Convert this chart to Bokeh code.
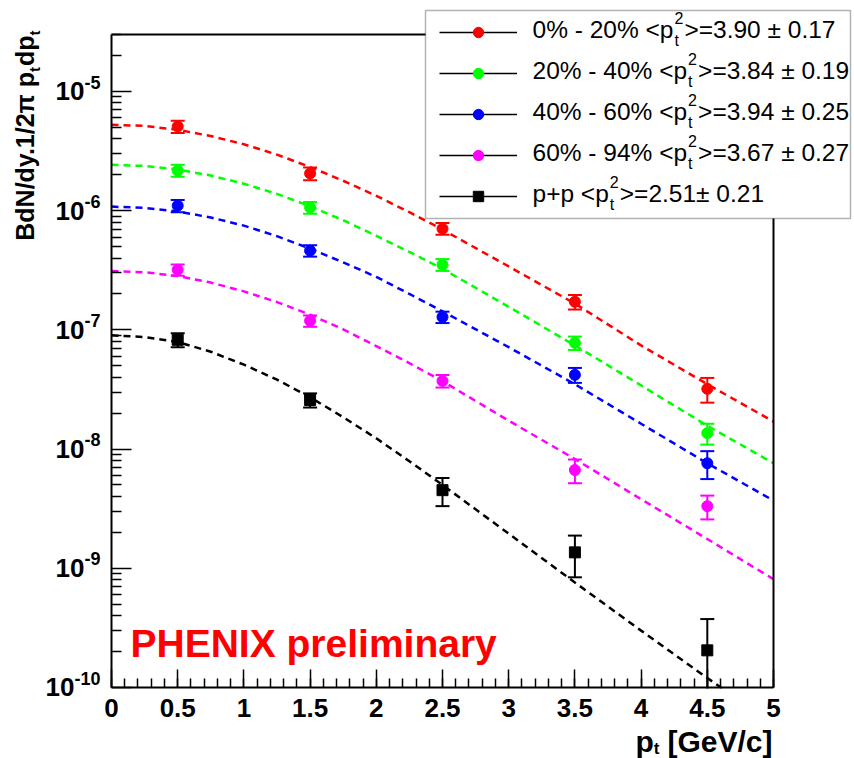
import math
from bokeh.plotting import figure
from bokeh.models import (FixedTicker, CustomJSTickFormatter, Label, BoxAnnotation,
                          Legend, LegendItem, LinearAxis, LogAxis)
from bokeh.embed import file_html
from bokeh.resources import INLINE

# ---------------- data ----------------
pt = [0.5, 1.5, 2.5, 3.5, 4.5]

yield_0_20 = [5.08e-6, 2.05e-6, 7.06e-7, 1.72e-7, 3.2e-8]
err_0_20 = [0.6e-6, 0.25e-6, 0.8e-7, 0.24e-7, 0.75e-8]
yield_20_40 = [2.17e-6, 1.06e-6, 3.52e-7, 7.78e-8, 1.36e-8]
err_20_40 = [0.25e-6, 0.12e-6, 0.4e-7, 1.0e-8, 0.27e-8]
yield_40_60 = [1.10e-6, 4.61e-7, 1.28e-7, 4.19e-8, 7.6e-9]
err_40_60 = [0.13e-6, 0.5e-7, 0.14e-7, 0.6e-8, 2.0e-9]
yield_60_94 = [3.19e-7, 1.19e-7, 3.73e-8, 6.67e-9, 3.32e-9]
err_60_94 = [0.35e-7, 0.13e-7, 0.45e-8, 1.5e-9, 0.75e-9]
yield_pp = [8.24e-8, 2.58e-8, 4.52e-9, 1.36e-9, 2.05e-10]
err_pp = [1.1e-8, 0.35e-8, 1.2e-9, 0.52e-9, 1.7e-10]

# dashed fit curves
fit_pt = [0.0, 0.25, 0.5, 0.75, 1.0, 1.25, 1.5, 1.75, 2.0, 2.25, 2.5, 3.0, 3.5, 4.0, 4.5, 5.0]
fit_0_20 = [5.25e-6, 5.13e-6, 4.76e-6, 4.22e-6, 3.6e-6, 2.95e-6, 2.32e-6, 1.78e-6,
            1.33e-6, 9.7e-7, 6.93e-7, 3.4e-7, 1.66e-7, 7.4e-8, 3.5e-8, 1.7e-8]
fit_20_40 = [2.42e-6, 2.37e-6, 2.21e-6, 1.97e-6, 1.68e-6, 1.38e-6, 1.09e-6, 8.3e-7,
             6.15e-7, 4.5e-7, 3.25e-7, 1.56e-7, 7.4e-8, 3.42e-8, 1.57e-8, 7.6e-9]
fit_40_60 = [1.08e-6, 1.055e-6, 9.85e-7, 8.75e-7, 7.48e-7, 6.1e-7, 4.8e-7, 3.68e-7,
             2.78e-7, 2.0e-7, 1.43e-7, 7.15e-8, 3.5e-8, 1.63e-8, 7.6e-9, 3.7e-9]
fit_60_94 = [3.12e-7, 3.04e-7, 2.83e-7, 2.49e-7, 2.1e-7, 1.71e-7, 1.34e-7, 1.01e-7,
             7.3e-8, 5.25e-8, 3.71e-8, 1.73e-8, 8.25e-9, 3.8e-9, 1.76e-9, 8.1e-10]
fit_pp = [9.0e-8, 8.7e-8, 7.9e-8, 6.55e-8, 5.1e-8, 3.82e-8, 2.72e-8, 1.85e-8,
          1.23e-8, 7.9e-9, 5.0e-9, 1.95e-9, 7.6e-10, 3.0e-10, 1.2e-10, 5.0e-11]

series_names = ["0% - 20%", "20% - 40%", "40% - 60%", "60% - 94%", "p+p"]
mean_pt2 = [3.90, 3.84, 3.94, 3.67, 2.51]
mean_pt2_err = [0.17, 0.19, 0.25, 0.27, 0.21]

x_tick_values = [0, 0.5, 1, 1.5, 2, 2.5, 3, 3.5, 4, 4.5, 5]
y_tick_exponents = [-10, -9, -8, -7, -6, -5]

colors = ["#ff0000", "#00ff00", "#0000ff", "#ff00ff", "#000000"]
markers = ["circle", "circle", "circle", "circle", "square"]

yields = [yield_0_20, yield_20_40, yield_40_60, yield_60_94, yield_pp]
errs = [err_0_20, err_20_40, err_40_60, err_60_94, err_pp]
fits = [fit_0_20, fit_20_40, fit_40_60, fit_60_94, fit_pp]

# ---------------- layout ----------------
W, H = 854, 758
FL, FR, FT, FB = 111, 773, 34, 687          # data box inside the canvas
XMIN, XMAX = 0.0, 5.0
YMIN, YMAX = 1e-10, 3e-5
LSPAN = math.log10(YMAX) - math.log10(YMIN)
FONT = "Liberation Sans"
BASE_SHIFT = 0.35    # distance (in em) from the label anchor down to the text baseline


def X(px):
    return XMIN + (px - FL) / (FR - FL) * (XMAX - XMIN)


def Y(py):
    return 10 ** (math.log10(YMIN) + (FB - py) / (FB - FT) * LSPAN)


def PY(v):
    return FB - (math.log10(v) - math.log10(YMIN)) / LSPAN * (FB - FT)


# the frame covers the whole canvas; axes are pinned at the data box edges
p = figure(width=W, height=H, x_range=(X(0), X(W)), y_range=(Y(H), Y(0)),
           y_axis_type="log", output_backend="svg", toolbar_location=None,
           min_border=0, min_border_left=0, min_border_right=0,
           min_border_top=0, min_border_bottom=0)
p.xgrid.visible = False
p.ygrid.visible = False
p.outline_line_color = None
p.background_fill_color = "white"
p.border_fill_color = "white"

xa = p.xaxis[0]
xa.fixed_location = YMIN
xa.bounds = (XMIN, XMAX)
xa.ticker = FixedTicker(ticks=x_tick_values,
                        minor_ticks=[i / 10 for i in range(51)])
xa.formatter = CustomJSTickFormatter(code="return String(tick)")
xa.major_tick_in = 18
xa.major_tick_out = 0
xa.minor_tick_in = 9
xa.minor_tick_out = 0
xa.axis_line_width = 2
xa.major_tick_line_width = 1.5
xa.minor_tick_line_width = 1.5
xa.major_label_text_font = FONT
xa.major_label_text_font_style = "bold"
xa.major_label_text_font_size = "26px"
xa.major_label_text_color = "black"
xa.major_label_standoff = 11

ya = p.yaxis[0]
ya.fixed_location = XMIN
ya.bounds = (YMIN, YMAX)
ya.ticker = FixedTicker(ticks=[10.0 ** k for k in y_tick_exponents],
                        minor_ticks=[m * 10.0 ** k for k in range(-10, -4)
                                     for m in range(2, 10) if m * 10.0 ** k <= YMAX * 1.0001])
ya.formatter = CustomJSTickFormatter(code="return ''")
ya.major_tick_in = 20
ya.major_tick_out = 0
ya.minor_tick_in = 10
ya.minor_tick_out = 0
ya.axis_line_width = 2
ya.major_tick_line_width = 1.5
ya.minor_tick_line_width = 1.5

top_axis = LinearAxis(fixed_location=YMAX, bounds=(XMIN, XMAX),
                      ticker=FixedTicker(ticks=[]),
                      formatter=CustomJSTickFormatter(code="return ''"),
                      major_tick_line_color=None, minor_tick_line_color=None,
                      axis_line_width=2)
p.add_layout(top_axis, "above")
right_axis = LogAxis(fixed_location=XMAX, bounds=(YMIN, YMAX),
                     ticker=FixedTicker(ticks=[]),
                     formatter=CustomJSTickFormatter(code="return ''"),
                     major_tick_line_color=None, minor_tick_line_color=None,
                     axis_line_width=2)
p.add_layout(right_axis, "right")

# ---------------- curves & points ----------------
marker_renderers = []
for c, f, yv, ev, m in zip(colors, fits, yields, errs, markers):
    p.line(fit_pt, f, line_color=c, line_width=2.5, line_dash="7 5")
    lo = [a - b for a, b in zip(yv, ev)]
    hi = [a + b for a, b in zip(yv, ev)]
    p.segment(x0=pt, x1=pt, y0=lo, y1=hi, line_color=c, line_width=2)
    p.scatter(x=pt + pt, y=lo + hi, marker="dash", size=14, line_color=c, line_width=2)
    r = p.scatter(x=pt, y=yv, marker=m, size=11, fill_color=c, line_color=c)
    marker_renderers.append(r)

legend_line = p.line(x=[float("nan")], y=[float("nan")], line_color="black", line_width=1.5)

# clip everything that falls below the x axis (like the frame of the original)
mask = BoxAnnotation(top=Y(FB + 1), fill_color="white", fill_alpha=1.0,
                     line_color=None, level="glyph")
p.add_layout(mask)

# ---------------- legend ----------------
box = BoxAnnotation(left=X(425), right=X(850), top=Y(10), bottom=Y(218),
                    fill_color="white", fill_alpha=1.0, line_color="black",
                    line_width=1.5, level="annotation")
p.add_layout(box)

items = [LegendItem(label=" ", renderers=[legend_line, r]) for r in marker_renderers]
GL, GW, GH, SP = 439, 78, 26, 15
row_y = [32 + i * (GH + SP) for i in range(5)]
leg_bottom = row_y[-1] + GH / 2
legend = Legend(items=items, location=(GL, int(H - leg_bottom)),
                glyph_width=GW, glyph_height=GH, spacing=SP, padding=0, margin=0,
                label_standoff=0, label_width=0, label_height=0,
                label_text_font_size="1px", border_line_alpha=0,
                background_fill_alpha=0, level="overlay")
p.add_layout(legend)

# Arial / Liberation Sans advance widths (em)
REG = {"0": .556, "1": .556, "2": .556, "3": .556, "4": .556, "5": .556, "6": .556,
       "7": .556, "8": .556, "9": .556, "%": .889, " ": .278, "-": .333, "<": .584,
       ">": .584, "=": .584, ".": .278, "+": .584, "p": .556, "\u00b1": .549}
BOLD = {"0": .556, "1": .556, "2": .556, "3": .556, "4": .556, "5": .556, "6": .556,
        "7": .556, "8": .556, "9": .556, "-": .333, " ": .278, "[": .333, "]": .333,
        "G": .778, "e": .556, "V": .667, "/": .278, "c": .556, "p": .611, "d": .611, "t": .333}


def tw(s, size, table):
    return sum(table.get(ch, .556) for ch in s) * size


def add_label(px, py, text, size, bold=False, align="left", color="black",
              angle=0.0, level="overlay"):
    """(px, py) is the wanted start/end point on the text baseline, in canvas pixels."""
    if angle:
        px = px - BASE_SHIFT * size
    else:
        py = py - BASE_SHIFT * size
    p.add_layout(Label(x=X(px), y=Y(py), text=text, text_font=FONT,
                       text_font_size=f"{size}px",
                       text_font_style="bold" if bold else "normal",
                       text_align=align, text_baseline="alphabetic",
                       text_color=color, angle=angle, level=level))


LS = 24.5
for i, name in enumerate(series_names):
    base = row_y[i] + 6
    part1 = f"{name} <p"
    sep = "" if name == "p+p" else " "
    part2 = f">={mean_pt2[i]:.2f}{sep}\u00b1 {mean_pt2_err[i]:.2f}"
    x1 = 532
    w1 = tw(part1, LS, REG)
    add_label(x1, base, part1, LS)
    add_label(x1 + w1 + 1, base - 15, "2", 16)
    add_label(x1 + w1 + 1, base + 8, "t", 16)
    add_label(x1 + w1 + 11, base, part2, LS)

# ---------------- y tick labels ----------------
for k in y_tick_exponents:
    ty = PY(10.0 ** k)
    sup = str(k)
    wsup = tw(sup, 18, BOLD)
    add_label(100, ty - 3, sup, 18, bold=True, align="right")
    add_label(100 - wsup, ty + 9, "10", 26, bold=True, align="right")

# ---------------- axis titles ----------------
tail = "[GeV/c]"
wt = tw(tail, 30, BOLD)
x_tail = 772 - wt
add_label(772, 751, tail, 30, bold=True, align="right")
x_sub = x_tail - 8 - tw("t", 17, BOLD)
add_label(x_sub, 754, "t", 17, bold=True)
add_label(x_sub, 751, "p", 30, bold=True, align="right")

YT_BASE = 33
top_end = 30
sub_w = tw("t", 15, BOLD)
dp_w = tw("dp", 25, BOLD)
y_t2 = top_end + sub_w
y_dp = y_t2 + dp_w
y_t1 = y_dp + sub_w + 1
add_label(YT_BASE + 6, y_t2, "t", 15, bold=True, angle=math.pi / 2)
add_label(YT_BASE, y_dp, "dp", 25, bold=True, angle=math.pi / 2)
add_label(YT_BASE + 6, y_t1, "t", 15, bold=True, angle=math.pi / 2)
add_label(YT_BASE, y_t1, "BdN/dy.1/2\u03c0 p", 25, bold=True, align="right",
          angle=math.pi / 2)

# ---------------- annotation text ----------------
add_label(130, 657, "PHENIX preliminary", 39, bold=True, color="#ff0000")

open("out.html", "w").write(file_html(p, INLINE))
